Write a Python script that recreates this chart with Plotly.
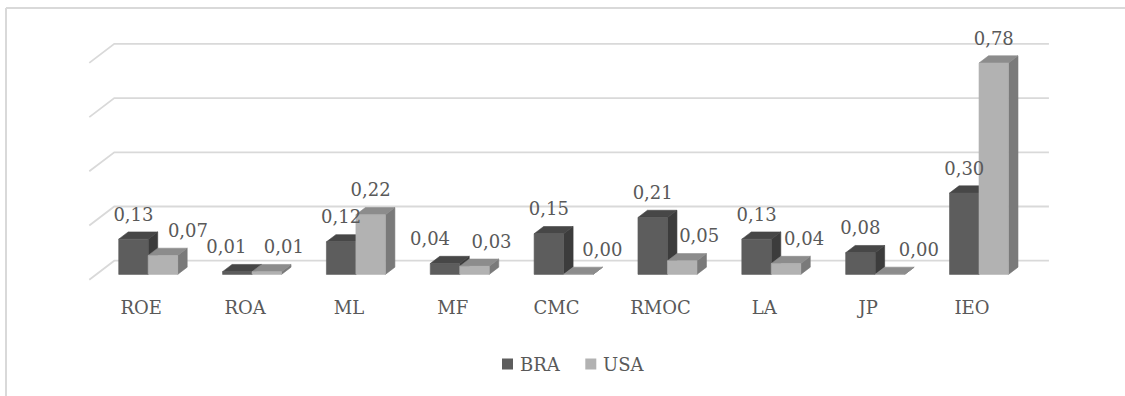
import plotly.graph_objects as go

# ---- data ----
categories = ["ROE", "ROA", "ML", "MF", "CMC", "RMOC", "LA", "JP", "IEO"]
bra = [0.13, 0.01, 0.12, 0.04, 0.15, 0.21, 0.13, 0.08, 0.30]
usa = [0.07, 0.01, 0.22, 0.03, 0.00, 0.05, 0.04, 0.00, 0.78]
grid_values = [0.0, 0.2, 0.4, 0.6, 0.8]
series_names = ["BRA", "USA"]

# ---- geometry of the oblique 3D projection (pixels) ----
W_PX, H_PX = 1125, 396
CAT_PX = 103.85          # pixels per category
VAL_PX = 271.0           # pixels per value unit
ORIGIN_X = 166.2         # back-wall centre of the first category
ORIGIN_Y = 260.7         # back-wall zero line, from the top
DEPTH_DX, DEPTH_DY = 25.0, 19.0   # full floor depth as a screen offset
FRONT_T, BACK_T = 0.72, 0.34      # depth of bar front/back faces (0 = back wall)
BAR_W = 0.284            # bar width in category units

x_range = [-ORIGIN_X / CAT_PX, (W_PX - ORIGIN_X) / CAT_PX]
y_range = [-(H_PX - ORIGIN_Y) / VAL_PX, ORIGIN_Y / VAL_PX]


def shift(t):
    """Offset in data units for a point at depth t (0 back wall, 1 floor front)."""
    return -DEPTH_DX * t / CAT_PX, -DEPTH_DY * t / VAL_PX


def px_x(p):
    return p / CAT_PX


def px_y(p):
    return p / VAL_PX


FONT = "DejaVu Serif"
FONT_SIZE = 18
TEXT_COLOR = "#595959"
GRID_COLOR = "#d9d9d9"

styles = {
    "BRA": dict(front="#5d5d5d", top="#474747", side="#3c3c3c"),
    "USA": dict(front="#b2b2b2", top="#8c8c8c", side="#7a7a7a"),
}
label_nudge = {
    "BRA": [0, -11, 0, -15, 0, 0, 0, 0, 0],
    "USA": [25, 17, 0, 17, 24, 17, 18, 29, 0],
}

fig = go.Figure()

# ---- back wall gridlines with their floor diagonals ----
gx, gy = [], []
fdx, fdy = shift(1.0)
left_edge, right_edge = -0.5, len(categories) - 0.5
for v in grid_values:
    gx += [left_edge + fdx, left_edge, right_edge, None]
    gy += [v + fdy, v, v, None]
fig.add_trace(go.Scatter(x=gx, y=gy, mode="lines",
                         line=dict(color=GRID_COLOR, width=1.8),
                         hoverinfo="skip", showlegend=False))

# ---- bars: side, top, front faces of each series ----
fx, fy = shift(FRONT_T)
bx, by = shift(BACK_T)


def add_poly(xs, ys, color):
    fig.add_trace(go.Scatter(x=xs, y=ys, mode="lines", fill="toself",
                             fillcolor=color, line=dict(color=color, width=0.6),
                             hoverinfo="skip", showlegend=False))


for s, (name, values) in enumerate(zip(series_names, [bra, usa])):
    st = styles[name]
    side_x, side_y, top_x, top_y, front_x, front_y = [], [], [], [], [], []
    for k, v in enumerate(values):
        xl = k + (s - 1) * BAR_W
        xr = xl + BAR_W
        side_x += [xr + fx, xr + fx, xr + bx, xr + bx, xr + fx, None]
        side_y += [fy, v + fy, v + by, by, fy, None]
        top_x += [xl + fx, xr + fx, xr + bx, xl + bx, xl + fx, None]
        top_y += [v + fy, v + fy, v + by, v + by, v + fy, None]
        front_x += [xl + fx, xr + fx, xr + fx, xl + fx, xl + fx, None]
        front_y += [fy, fy, v + fy, v + fy, fy, None]
    add_poly(side_x, side_y, st["side"])
    add_poly(top_x, top_y, st["top"])
    add_poly(front_x, front_y, st["front"])

# ---- value labels ----
for s, (name, values) in enumerate(zip(series_names, [bra, usa])):
    lx = [k + (s - 0.5) * BAR_W + fx + px_x(label_nudge[name][k])
          for k in range(len(values))]
    ly = [v + fy + px_y(23) for v in values]
    fig.add_trace(go.Scatter(
        x=lx, y=ly, mode="text",
        text=[f"{v:.2f}".replace(".", ",") for v in values],
        textposition="middle center",
        textfont=dict(family=FONT, size=FONT_SIZE, color=TEXT_COLOR),
        hoverinfo="skip", showlegend=False, cliponaxis=False))

# ---- category labels on the floor front ----
fig.add_trace(go.Scatter(
    x=[k + fdx for k in range(len(categories))],
    y=[px_y(-49)] * len(categories),
    mode="text", text=categories, textposition="middle center",
    textfont=dict(family=FONT, size=FONT_SIZE, color=TEXT_COLOR),
    hoverinfo="skip", showlegend=False, cliponaxis=False))

# ---- legend ----
legend_y = 364
legend_items = [(507.5, 517.5), (590.8, 600.5)]
for name, (sq_x, txt_x) in zip(series_names, legend_items):
    fig.add_shape(type="rect", xref="paper", yref="paper",
                  x0=(sq_x - 5.5) / W_PX, x1=(sq_x + 5.5) / W_PX,
                  y0=1 - (legend_y + 5.5) / H_PX, y1=1 - (legend_y - 5.5) / H_PX,
                  fillcolor=styles[name]["front"], line=dict(width=0))
    fig.add_annotation(x=txt_x / W_PX, y=1 - legend_y / H_PX,
                       xref="paper", yref="paper", text=name, showarrow=False,
                       xanchor="left", yanchor="middle",
                       font=dict(family=FONT, size=FONT_SIZE, color=TEXT_COLOR))

# ---- chart frame (top and left edges) ----
fig.add_shape(type="line", xref="paper", yref="paper",
              x0=6 / W_PX, x1=1, y0=1 - 8 / H_PX, y1=1 - 8 / H_PX,
              line=dict(color=GRID_COLOR, width=2))
fig.add_shape(type="line", xref="paper", yref="paper",
              x0=6 / W_PX, x1=6 / W_PX, y0=0, y1=1 - 8 / H_PX,
              line=dict(color=GRID_COLOR, width=2))

fig.update_layout(
    width=W_PX, height=H_PX,
    margin=dict(l=0, r=0, t=0, b=0),
    paper_bgcolor="white", plot_bgcolor="white",
    font=dict(family=FONT),
    xaxis=dict(range=x_range, visible=False, fixedrange=True),
    yaxis=dict(range=y_range, visible=False, fixedrange=True),
    showlegend=False,
)

fig.write_html("out.html")
